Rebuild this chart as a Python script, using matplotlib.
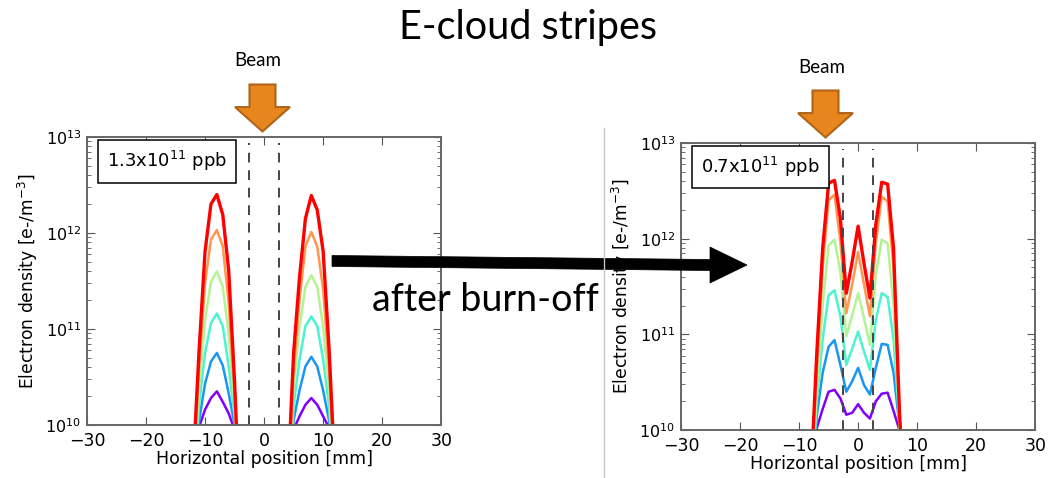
import numpy as np
import matplotlib.pyplot as plt
from matplotlib.patches import Polygon

# horizontal position [mm] and log10 of electron density
before_x = [-12, -11, -10, -9, -8, -7, -6, -5, -4, np.nan, 4, 5, 6, 7, 8, 9, 10, 11, 12]
before_purple = [9.0, 9.98, 10.16, 10.28, 10.35, 10.24, 10.12, 9.95, 8.5, np.nan, 8.8, 9.95, 10.09, 10.21, 10.28, 10.21, 10.09, 9.97, 9.0]
before_blue = [9.2, 10.05, 10.43, 10.66, 10.75, 10.62, 10.33, 10.0, 8.6, np.nan, 9.0, 10.05, 10.36, 10.61, 10.71, 10.61, 10.36, 10.05, 9.1]
before_cyan = [9.3, 10.22, 10.75, 11.06, 11.16, 11.03, 10.61, 10.1, 8.7, np.nan, 9.1, 10.2, 10.68, 11.03, 11.13, 11.03, 10.68, 10.2, 9.2]
before_green = [9.4, 10.4, 11.09, 11.49, 11.60, 11.44, 10.95, 10.2, 8.8, np.nan, 9.2, 10.4, 11.02, 11.44, 11.56, 11.44, 11.02, 10.4, 9.3]
before_orange = [9.5, 10.6, 11.48, 11.93, 12.03, 11.86, 11.27, 10.3, 8.9, np.nan, 9.3, 10.55, 11.30, 11.86, 12.01, 11.86, 11.41, 10.6, 9.4]
before_red = [9.6, 10.79, 11.81, 12.30, 12.40, 12.19, 11.61, 10.45, 9.0, np.nan, 9.4, 10.75, 11.54, 12.15, 12.39, 12.24, 11.81, 10.8, 9.5]

after_x = [-8, -7, -6, -5, -4, -3, -2, -1, 0, 1, 2, 3, 4, 5, 6, 7, 8]
after_purple = [9.0, 10.02, 10.22, 10.40, 10.42, 10.33, 10.16, 10.18, 10.27, 10.18, 10.12, 10.30, 10.38, 10.39, 10.2, 10.0, 8.5]
after_blue = [9.1, 10.15, 10.6, 10.87, 10.94, 10.68, 10.40, 10.51, 10.65, 10.47, 10.37, 10.65, 10.90, 10.89, 10.6, 10.05, 8.6]
after_cyan = [9.2, 10.3, 10.95, 11.41, 11.46, 11.19, 10.68, 10.85, 11.03, 10.82, 10.63, 11.15, 11.43, 11.39, 10.95, 10.05, 8.7]
after_green = [9.3, 10.4, 11.3, 11.93, 11.99, 11.65, 10.98, 11.20, 11.43, 11.17, 10.89, 11.62, 11.99, 11.95, 11.3, 10.1, 8.8]
after_orange = [9.4, 10.6, 11.7, 12.40, 12.46, 11.97, 11.22, 11.52, 11.86, 11.52, 11.19, 11.95, 12.44, 12.39, 11.7, 10.15, 8.9]
after_red = [9.5, 10.8, 11.9, 12.58, 12.61, 12.21, 11.43, 11.76, 12.13, 11.74, 11.38, 12.15, 12.59, 12.57, 11.9, 10.2, 9.0]

before_curves = [before_purple, before_blue, before_cyan, before_green, before_orange, before_red]
after_curves = [after_purple, after_blue, after_cyan, after_green, after_orange, after_red]
beam_edges = [-2.5, 2.5]
labels = ['1.3x10$^{11}$ ppb', '0.7x10$^{11}$ ppb']

colors = plt.cm.rainbow(np.linspace(0, 1, 6))

fig = plt.figure(figsize=(10.48, 4.78), dpi=100)
ax1 = fig.add_axes([0.083, 0.111, 0.338, 0.6025])
ax2 = fig.add_axes([0.6498, 0.1004, 0.338, 0.6004])


def draw_panel(ax, x, curves, label):
    for i, c in enumerate(curves):
        lw = 2.4 if i == 5 else 1.8
        ax.plot(x, 10 ** np.array(c), color=colors[i], lw=lw)
    for b in beam_edges:
        ax.axvline(b, ymax=0.978, color='#444444', ls='--', lw=1.4, dashes=(5, 4))
    ax.set_yscale('log')
    ax.set_xlim(-30, 30)
    ax.set_ylim(1e10, 1e13)
    ax.set_xticks([-30, -20, -10, 0, 10, 20, 30])
    ax.tick_params(which='both', direction='in', top=True, right=True, color='#555555')
    ax.tick_params(axis='x', labelsize=12.5, pad=5)
    ax.tick_params(axis='y', labelsize=11.5, pad=4)
    ax.tick_params(which='major', length=6)
    ax.tick_params(which='minor', length=3)
    for s in ax.spines.values():
        s.set_color('#666666')
        s.set_linewidth(1.4)
    ax.set_xlabel('Horizontal position [mm]', fontsize=12.5, labelpad=0)
    ax.set_ylabel('Electron density [e-/m$^{-3}$]', fontsize=12.3, labelpad=4)
    ax.text(0.2246, 0.915, label, transform=ax.transAxes, ha='center', va='center',
            fontsize=13, bbox=dict(boxstyle='square,pad=0.5', fc='white', ec='black', lw=1.1))


draw_panel(ax1, before_x, before_curves, labels[0])
draw_panel(ax2, after_x, after_curves, labels[1])

# overlay in pixel coordinates for the slide decorations
ov = fig.add_axes([0, 0, 1, 1])
ov.set_xlim(0, 1048)
ov.set_ylim(478, 0)
ov.axis('off')
ov.patch.set_alpha(0)

ov.text(528, 27, 'E-cloud stripes', family='Lato', fontsize=28.5, ha='center', va='center')
ov.text(258, 60, 'Beam', family='Lato', fontsize=13.5, ha='center', va='center')
ov.text(822, 67, 'Beam', family='Lato', fontsize=13.5, ha='center', va='center')


def beam_arrow(cx, top, tip):
    base = top + (tip - top) * 0.48
    pts = [(cx - 13, top), (cx + 13, top), (cx + 13, base), (cx + 27.5, base),
           (cx, tip), (cx - 27.5, base), (cx - 13, base)]
    ov.add_patch(Polygon(pts, closed=True, fc='#E6861C', ec='#B0641A', lw=1.5))


beam_arrow(262.5, 84.5, 131.5)
beam_arrow(825.5, 90.5, 137.5)

# black arrow
ov.add_patch(Polygon([(332, 255.5), (710, 259.5), (710, 247), (747, 265), (710, 283),
                      (710, 270.5), (332, 266.5)], closed=True, fc='black', ec='black', lw=0.5))
ov.text(485, 300, 'after burn-off', family='Lato', fontsize=27, ha='center', va='center')

ov.plot([604, 604], [128, 478], color='#c4c4c4', lw=1)

fig.savefig('out.png', dpi=100)
